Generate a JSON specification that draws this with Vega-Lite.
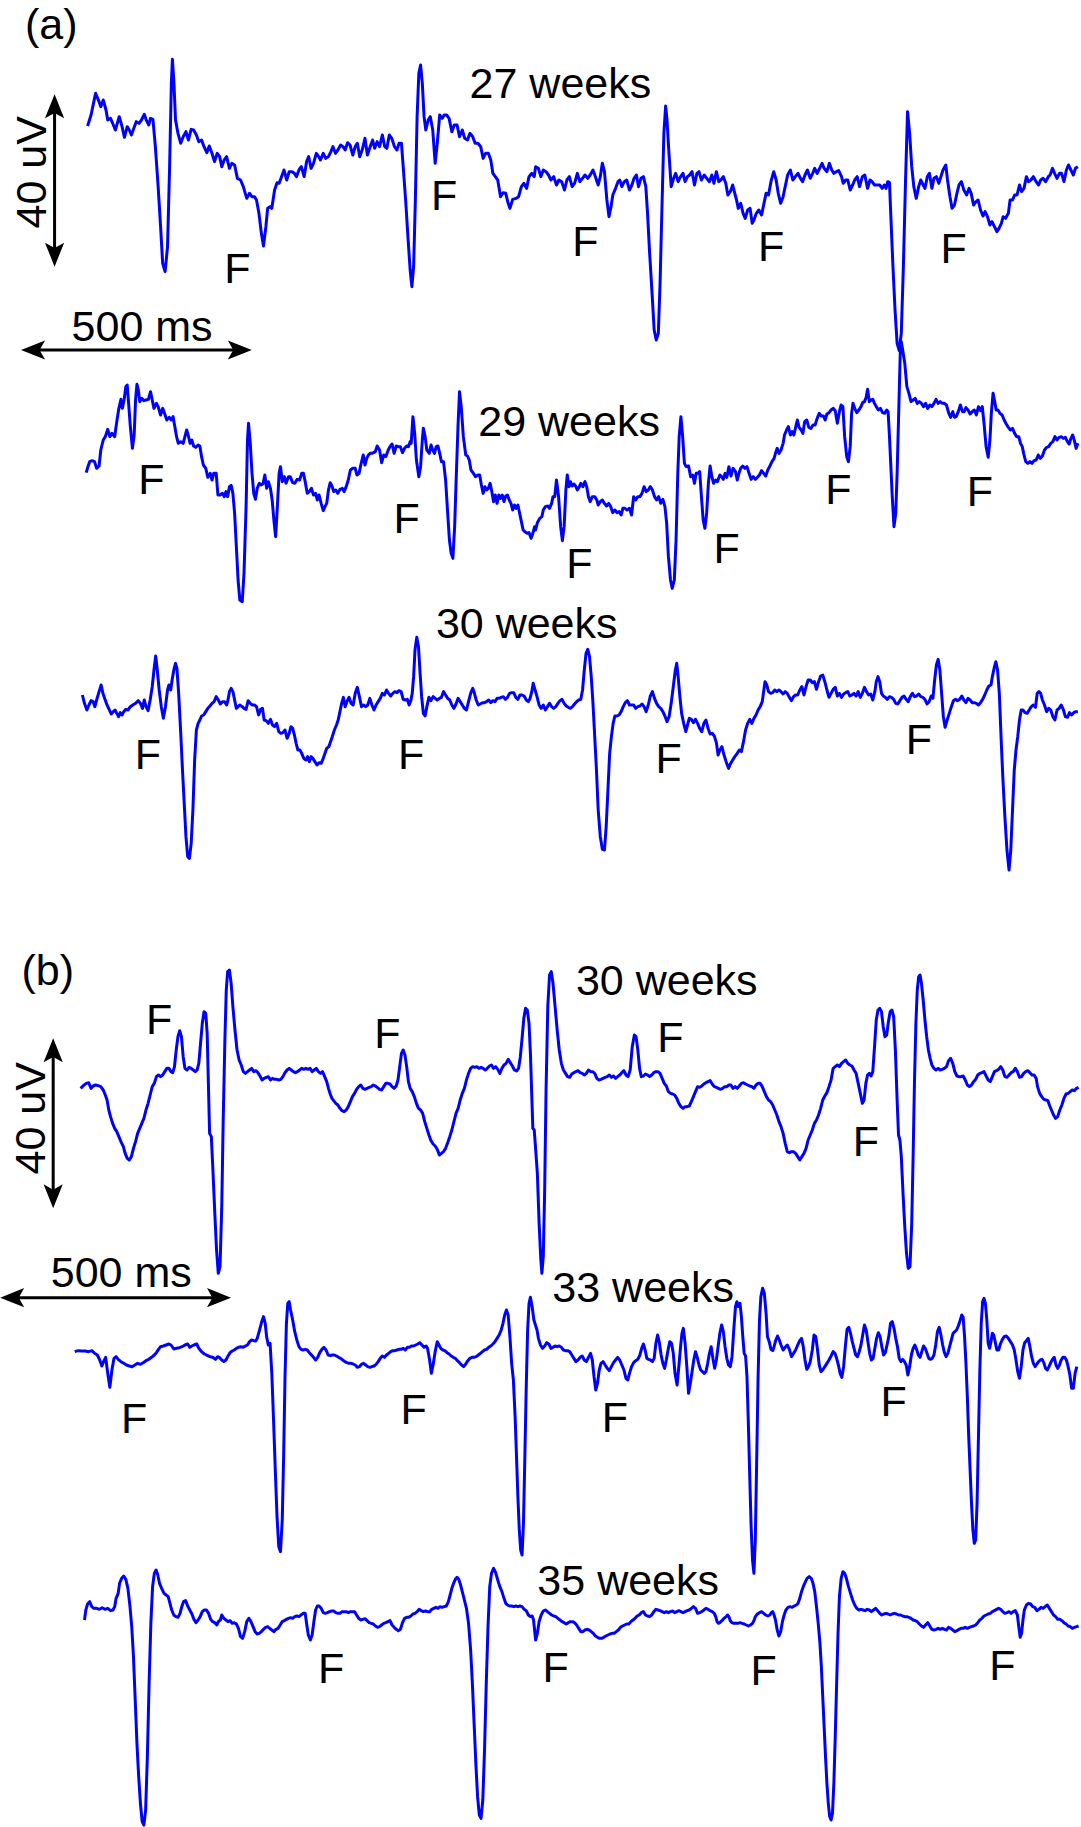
{
"$schema":"https://vega.github.io/schema/vega-lite/v6.json",
"width":1081,"height":1827,"padding":0,"autosize":{"type":"none"},
"background":"white",
"config":{"view":{"stroke":null}},
"datasets":{
"w27":[{"x":252,"y":378},{"x":262,"y":345},{"x":275,"y":280},{"x":285,"y":305},{"x":290,"y":320},{"x":297,"y":300},{"x":305,"y":330},{"x":310,"y":360},{"x":318,"y":355},{"x":325,"y":372},{"x":332,"y":390},{"x":343,"y":350},{"x":350,"y":375},{"x":358,"y":412},{"x":366,"y":380},{"x":372,"y":390},{"x":378,"y":405},{"x":385,"y":385},{"x":392,"y":365},{"x":400,"y":370},{"x":407,"y":360},{"x":415,"y":343},{"x":420,"y":358},{"x":428,"y":375},{"x":433,"y":355},{"x":440,"y":358},{"x":447,"y":440},{"x":455,"y":560},{"x":462,"y":680},{"x":468,"y":790},{"x":475,"y":815},{"x":482,"y":740},{"x":488,"y":500},{"x":493,"y":250},{"x":496,"y":178},{"x":500,"y":240},{"x":505,"y":360},{"x":512,"y":400},{"x":520,"y":430},{"x":527,"y":410},{"x":535,"y":395},{"x":542,"y":420},{"x":550,"y":388},{"x":557,"y":390},{"x":565,"y":405},{"x":572,"y":425},{"x":580,"y":420},{"x":587,"y":440},{"x":595,"y":458},{"x":602,"y":438},{"x":610,"y":460},{"x":617,"y":485},{"x":625,"y":460},{"x":632,"y":470},{"x":638,"y":500},{"x":645,"y":480},{"x":652,"y":470},{"x":660,"y":505},{"x":667,"y":490},{"x":675,"y":495},{"x":683,"y":535},{"x":692,"y":540},{"x":700,"y":560},{"x":710,"y":595},{"x":718,"y":580},{"x":725,"y":590},{"x":732,"y":590},{"x":738,"y":600},{"x":745,"y":640},{"x":752,"y":700},{"x":758,"y":738},{"x":765,"y":680},{"x":770,"y":625},{"x":777,"y":620},{"x":782,"y":625},{"x":790,"y":570},{"x":797,"y":548},{"x":803,"y":550},{"x":810,"y":530},{"x":817,"y":510},{"x":825,"y":540},{"x":832,"y":515},{"x":840,"y":515},{"x":847,"y":520},{"x":853,"y":530},{"x":860,"y":510},{"x":867,"y":500},{"x":875,"y":530},{"x":882,"y":485},{"x":888,"y":470},{"x":895,"y":505},{"x":902,"y":490},{"x":910,"y":460},{"x":917,"y":470},{"x":922,"y":480},{"x":930,"y":460},{"x":937,"y":475},{"x":945,"y":470},{"x":952,"y":455},{"x":958,"y":440},{"x":965,"y":460},{"x":972,"y":450},{"x":980,"y":435},{"x":987,"y":440},{"x":993,"y":450},{"x":1000,"y":428},{"x":1007,"y":435},{"x":1015,"y":465},{"x":1022,"y":440},{"x":1028,"y":430},{"x":1035,"y":470},{"x":1042,"y":450},{"x":1050,"y":415},{"x":1057,"y":465},{"x":1065,"y":440},{"x":1072,"y":420},{"x":1078,"y":445},{"x":1085,"y":425},{"x":1092,"y":440},{"x":1100,"y":405},{"x":1107,"y":440},{"x":1113,"y":445},{"x":1120,"y":405},{"x":1127,"y":415},{"x":1135,"y":440},{"x":1142,"y":450},{"x":1148,"y":430},{"x":1155,"y":430},{"x":1160,"y":500},{"x":1167,"y":600},{"x":1173,"y":700},{"x":1180,"y":810},{"x":1185,"y":860},{"x":1190,"y":800},{"x":1195,"y":600},{"x":1200,"y":350},{"x":1205,"y":220},{"x":1210,"y":195},{"x":1215,"y":250},{"x":1220,"y":350},{"x":1225,"y":390},{"x":1232,"y":360},{"x":1238,"y":350},{"x":1245,"y":390},{"x":1252,"y":490},{"x":1258,"y":430},{"x":1265,"y":345},{"x":1272,"y":355},{"x":1278,"y":345},{"x":1285,"y":345},{"x":1292,"y":355},{"x":1300,"y":395},{"x":1307,"y":375},{"x":1315,"y":375},{"x":1322,"y":410},{"x":1330,"y":390},{"x":1337,"y":415},{"x":1345,"y":420},{"x":1352,"y":400},{"x":1360,"y":410},{"x":1367,"y":430},{"x":1375,"y":430},{"x":1383,"y":440},{"x":1390,"y":475},{"x":1397,"y":460},{"x":1405,"y":460},{"x":1412,"y":480},{"x":1418,"y":520},{"x":1425,"y":530},{"x":1432,"y":540},{"x":1440,"y":590},{"x":1447,"y":578},{"x":1455,"y":580},{"x":1462,"y":610},{"x":1467,"y":625},{"x":1475,"y":598},{"x":1485,"y":595},{"x":1492,"y":590},{"x":1500,"y":560},{"x":1507,"y":550},{"x":1515,"y":565},{"x":1522,"y":530},{"x":1530,"y":520},{"x":1537,"y":530},
{"x":1541,"y":500},{"x":1549,"y":505},{"x":1556,"y":530},{"x":1563,"y":510},{"x":1571,"y":515},{"x":1578,"y":525},{"x":1585,"y":540},{"x":1593,"y":530},{"x":1601,"y":555},{"x":1608,"y":540},{"x":1616,"y":545},{"x":1624,"y":570},{"x":1631,"y":540},{"x":1638,"y":530},{"x":1646,"y":560},{"x":1653,"y":550},{"x":1661,"y":520},{"x":1668,"y":545},{"x":1676,"y":535},{"x":1683,"y":525},{"x":1691,"y":535},{"x":1698,"y":525},{"x":1706,"y":510},{"x":1713,"y":530},{"x":1721,"y":555},{"x":1727,"y":530},{"x":1733,"y":490},{"x":1739,"y":515},{"x":1746,"y":600},{"x":1752,"y":650},{"x":1758,"y":620},{"x":1763,"y":585},{"x":1771,"y":565},{"x":1778,"y":545},{"x":1783,"y":540},{"x":1789,"y":560},{"x":1796,"y":545},{"x":1803,"y":540},{"x":1811,"y":570},{"x":1818,"y":555},{"x":1824,"y":535},{"x":1831,"y":525},{"x":1837,"y":560},{"x":1844,"y":535},{"x":1851,"y":530},{"x":1858,"y":560},{"x":1863,"y":640},{"x":1869,"y":760},{"x":1876,"y":880},{"x":1882,"y":990},{"x":1888,"y":1020},{"x":1894,"y":1000},{"x":1899,"y":850},{"x":1905,"y":600},{"x":1910,"y":400},{"x":1915,"y":318},{"x":1919,"y":360},{"x":1924,"y":450},{"x":1931,"y":560},{"x":1938,"y":535},{"x":1944,"y":520},{"x":1951,"y":545},{"x":1958,"y":530},{"x":1965,"y":520},{"x":1971,"y":545},{"x":1978,"y":530},{"x":1984,"y":525},{"x":1991,"y":515},{"x":1998,"y":555},{"x":2005,"y":520},{"x":2011,"y":515},{"x":2018,"y":540},{"x":2026,"y":525},{"x":2033,"y":535},{"x":2041,"y":545},{"x":2048,"y":525},{"x":2054,"y":550},{"x":2061,"y":515},{"x":2068,"y":545},{"x":2074,"y":540},{"x":2081,"y":530},{"x":2088,"y":550},{"x":2094,"y":585},{"x":2101,"y":575},{"x":2108,"y":555},{"x":2114,"y":580},{"x":2119,"y":600},{"x":2124,"y":625},{"x":2131,"y":610},{"x":2138,"y":640},{"x":2144,"y":655},{"x":2151,"y":630},{"x":2158,"y":625},{"x":2164,"y":670},{"x":2169,"y":660},{"x":2176,"y":640},{"x":2183,"y":630},{"x":2191,"y":645},{"x":2198,"y":610},{"x":2204,"y":580},{"x":2211,"y":585},{"x":2218,"y":545},{"x":2226,"y":515},{"x":2233,"y":540},{"x":2239,"y":580},{"x":2246,"y":610},{"x":2253,"y":590},{"x":2259,"y":560},{"x":2266,"y":525},{"x":2274,"y":510},{"x":2281,"y":540},{"x":2288,"y":530},{"x":2296,"y":520},{"x":2303,"y":535},{"x":2309,"y":545},{"x":2316,"y":525},{"x":2323,"y":510},{"x":2331,"y":535},{"x":2338,"y":520},{"x":2344,"y":505},{"x":2351,"y":520},{"x":2358,"y":505},{"x":2365,"y":490},{"x":2371,"y":505},{"x":2379,"y":515},{"x":2386,"y":490},{"x":2393,"y":510},{"x":2399,"y":520},{"x":2406,"y":515},{"x":2413,"y":512},{"x":2421,"y":530},{"x":2426,"y":550},{"x":2433,"y":540},{"x":2439,"y":540},{"x":2446,"y":570},{"x":2453,"y":555},{"x":2459,"y":540},{"x":2466,"y":530},{"x":2473,"y":560},{"x":2481,"y":530},{"x":2488,"y":525},{"x":2496,"y":565},{"x":2503,"y":540},{"x":2509,"y":545},{"x":2516,"y":555},{"x":2523,"y":555},{"x":2531,"y":555},{"x":2538,"y":565},{"x":2544,"y":555},{"x":2549,"y":565},{"x":2554,"y":545},{"x":2559,"y":548},{"x":2563,"y":650},{"x":2569,"y":800},{"x":2575,"y":930},{"x":2581,"y":1030},{"x":2587,"y":1052},{"x":2593,"y":1000},{"x":2599,"y":800},{"x":2605,"y":550},{"x":2611,"y":335},{"x":2617,"y":400},{"x":2623,"y":500},{"x":2629,"y":560},{"x":2636,"y":595},{"x":2643,"y":560},{"x":2649,"y":540},{"x":2656,"y":555},{"x":2661,"y":565},{"x":2668,"y":530},{"x":2674,"y":520},{"x":2681,"y":565},{"x":2687,"y":535},{"x":2694,"y":530},{"x":2701,"y":550},{"x":2707,"y":530},{"x":2713,"y":510},{"x":2721,"y":495},{"x":2726,"y":540},{"x":2733,"y":590},{"x":2739,"y":625},{"x":2746,"y":615},{"x":2753,"y":580},{"x":2759,"y":555},{"x":2766,"y":545},{"x":2773,"y":570},{"x":2781,"y":585},{"x":2788,"y":565},{"x":2794,"y":580},{"x":2801,"y":615},{"x":2808,"y":605},{"x":2814,"y":600},{"x":2821,"y":630},{"x":2828,"y":648},{"x":2834,"y":635},{"x":2841,"y":650},{"x":2848,"y":675},{"x":2854,"y":665},{"x":2861,"y":680},{"x":2868,"y":695},{"x":2874,"y":685},{"x":2881,"y":670},{"x":2886,"y":650},{"x":2893,"y":655},{"x":2901,"y":640},{"x":2906,"y":600},{"x":2913,"y":600},{"x":2919,"y":585},{"x":2926,"y":585},{"x":2933,"y":555},{"x":2939,"y":575},{"x":2946,"y":565},{"x":2953,"y":530},{"x":2959,"y":545},{"x":2966,"y":540},{"x":2973,"y":530},{"x":2981,"y":545},{"x":2988,"y":555},{"x":2994,"y":540},{"x":3001,"y":535},{"x":3008,"y":545},{"x":3016,"y":530},{"x":3021,"y":525},{"x":3028,"y":505},{"x":3034,"y":520},{"x":3041,"y":535},{"x":3048,"y":520},{"x":3054,"y":520},{"x":3061,"y":545},{"x":3068,"y":510},{"x":3074,"y":495},{"x":3081,"y":510},{"x":3088,"y":525},{"x":3094,"y":505},{"x":3101,"y":500}],
"w29":[{"x":248,"y":1418},{"x":253,"y":1400},{"x":258,"y":1385},{"x":265,"y":1382},{"x":272,"y":1385},{"x":278,"y":1405},{"x":285,"y":1398},{"x":290,"y":1350},{"x":297,"y":1320},{"x":303,"y":1310},{"x":310,"y":1288},{"x":316,"y":1310},{"x":322,"y":1300},{"x":330,"y":1310},{"x":336,"y":1265},{"x":342,"y":1225},{"x":348,"y":1198},{"x":352,"y":1225},{"x":357,"y":1200},{"x":362,"y":1160},{"x":366,"y":1155},{"x":370,"y":1210},{"x":375,"y":1280},{"x":381,"y":1345},{"x":386,"y":1305},{"x":390,"y":1200},{"x":394,"y":1153},{"x":398,"y":1170},{"x":402,"y":1205},{"x":408,"y":1195},{"x":414,"y":1202},{"x":420,"y":1200},{"x":427,"y":1198},{"x":433,"y":1175},{"x":438,"y":1200},{"x":443,"y":1225},{"x":450,"y":1210},{"x":455,"y":1220},{"x":462,"y":1245},{"x":468,"y":1225},{"x":474,"y":1242},{"x":480,"y":1260},{"x":487,"y":1252},{"x":493,"y":1260},{"x":498,"y":1250},{"x":503,"y":1280},{"x":508,"y":1310},{"x":513,"y":1330},{"x":520,"y":1325},{"x":527,"y":1330},{"x":532,"y":1310},{"x":537,"y":1290},{"x":542,"y":1308},{"x":547,"y":1330},{"x":552,"y":1320},{"x":557,"y":1338},{"x":563,"y":1342},{"x":570,"y":1335},{"x":575,"y":1338},{"x":580,"y":1370},{"x":585,"y":1395},{"x":592,"y":1405},{"x":598,"y":1432},{"x":605,"y":1420},{"x":610,"y":1440},{"x":615,"y":1420},{"x":622,"y":1420},{"x":627,"y":1485},{"x":633,"y":1485},{"x":640,"y":1480},{"x":645,"y":1490},{"x":650,"y":1475},{"x":655,"y":1490},{"x":660,"y":1460},{"x":665,"y":1456},{"x":670,"y":1480},{"x":675,"y":1540},{"x":680,"y":1640},{"x":685,"y":1740},{"x":690,"y":1800},{"x":697,"y":1805},{"x":702,"y":1720},{"x":708,"y":1520},{"x":712,"y":1320},{"x":715,"y":1270},{"x":720,"y":1330},{"x":725,"y":1420},{"x":730,"y":1480},{"x":735,"y":1498},{"x":740,"y":1465},{"x":746,"y":1450},{"x":752,"y":1455},{"x":757,"y":1450},{"x":762,"y":1425},{"x":767,"y":1465},{"x":772,"y":1445},{"x":778,"y":1465},{"x":783,"y":1500},{"x":788,"y":1560},{"x":793,"y":1610},{"x":798,"y":1520},{"x":803,"y":1420},{"x":807,"y":1400},{"x":812,"y":1445},{"x":818,"y":1430},{"x":823,"y":1450},{"x":830,"y":1430},{"x":835,"y":1430},{"x":842,"y":1448},{"x":848,"y":1450},{"x":855,"y":1438},{"x":862,"y":1440},{"x":868,"y":1420},{"x":873,"y":1420},{"x":878,"y":1445},{"x":884,"y":1480},{"x":890,"y":1475},{"x":896,"y":1465},{"x":902,"y":1485},{"x":908,"y":1480},{"x":913,"y":1500},{"x":918,"y":1485},{"x":924,"y":1510},{"x":930,"y":1532},{"x":935,"y":1520},{"x":940,"y":1510},{"x":945,"y":1470},{"x":950,"y":1448},{"x":955,"y":1458},{"x":960,"y":1475},{"x":966,"y":1470},{"x":972,"y":1480},{"x":978,"y":1468},{"x":985,"y":1465},{"x":990,"y":1475},{"x":996,"y":1460},{"x":1002,"y":1440},{"x":1008,"y":1410},{"x":1015,"y":1405},{"x":1022,"y":1405},{"x":1027,"y":1425},{"x":1033,"y":1420},{"x":1038,"y":1395},{"x":1045,"y":1365},{"x":1050,"y":1395},{"x":1055,"y":1375},{"x":1060,"y":1365},{"x":1065,"y":1360},{"x":1070,"y":1360},{"x":1075,"y":1358},{"x":1080,"y":1355},{"x":1085,"y":1338},{"x":1092,"y":1350},{"x":1098,"y":1388},{"x":1104,"y":1365},{"x":1110,"y":1370},{"x":1117,"y":1350},{"x":1122,"y":1340},{"x":1128,"y":1332},{"x":1134,"y":1360},{"x":1140,"y":1338},{"x":1146,"y":1340},{"x":1152,"y":1340},{"x":1158,"y":1358},{"x":1164,"y":1345},{"x":1170,"y":1338},{"x":1175,"y":1340},{"x":1180,"y":1325},{"x":1183,"y":1330},{"x":1188,"y":1250},{"x":1193,"y":1300},{"x":1198,"y":1380},{"x":1205,"y":1430},{"x":1210,"y":1400},{"x":1215,"y":1320},{"x":1218,"y":1285},{"x":1223,"y":1310},{"x":1228,"y":1350},{"x":1235,"y":1360},{"x":1240,"y":1335},{"x":1245,"y":1350},{"x":1250,"y":1360},{"x":1255,"y":1340},{"x":1260,"y":1338},{"x":1265,"y":1360},{"x":1270,"y":1385},{"x":1276,"y":1385},{"x":1282,"y":1440},{"x":1288,"y":1540},{"x":1293,"y":1620},{"x":1298,"y":1660},{"x":1303,"y":1675},{"x":1308,"y":1580},{"x":1313,"y":1420},{"x":1318,"y":1270},{"x":1322,"y":1175},{"x":1327,"y":1220},{"x":1333,"y":1310},{"x":1340,"y":1365},{"x":1345,"y":1368},{"x":1350,"y":1380},{"x":1355,"y":1410},{"x":1362,"y":1420},{"x":1368,"y":1430},{"x":1375,"y":1425},{"x":1380,"y":1425},{"x":1385,"y":1455},{"x":1390,"y":1480},{"x":1395,"y":1460},{"x":1400,"y":1470},{"x":1405,"y":1465},{"x":1410,"y":1450},{"x":1415,"y":1475},{"x":1420,"y":1505},{"x":1425,"y":1485},{"x":1430,"y":1510},{"x":1435,"y":1485},{"x":1440,"y":1495},{"x":1445,"y":1485},{"x":1450,"y":1505},{"x":1455,"y":1488},{"x":1460,"y":1485},{"x":1465,"y":1500},{"x":1470,"y":1510},{"x":1475,"y":1530},{"x":1480,"y":1515},{"x":1485,"y":1525},{"x":1490,"y":1515},{"x":1495,"y":1540},{"x":1500,"y":1565},{"x":1505,"y":1590},{"x":1510,"y":1595},{"x":1517,"y":1600},{"x":1522,"y":1598},{"x":1528,"y":1615},{"x":1533,"y":1600},{"x":1538,"y":1580},
{"x":1541,"y":1590},{"x":1546,"y":1568},{"x":1553,"y":1555},{"x":1559,"y":1550},{"x":1563,"y":1530},{"x":1569,"y":1520},{"x":1576,"y":1518},{"x":1581,"y":1525},{"x":1587,"y":1510},{"x":1591,"y":1490},{"x":1596,"y":1490},{"x":1601,"y":1440},{"x":1607,"y":1490},{"x":1613,"y":1580},{"x":1618,"y":1622},{"x":1623,"y":1580},{"x":1628,"y":1470},{"x":1632,"y":1425},{"x":1637,"y":1460},{"x":1641,"y":1445},{"x":1646,"y":1458},{"x":1651,"y":1452},{"x":1656,"y":1458},{"x":1661,"y":1470},{"x":1667,"y":1460},{"x":1671,"y":1450},{"x":1677,"y":1460},{"x":1683,"y":1445},{"x":1688,"y":1460},{"x":1693,"y":1490},{"x":1698,"y":1505},{"x":1704,"y":1490},{"x":1711,"y":1490},{"x":1717,"y":1500},{"x":1721,"y":1515},{"x":1727,"y":1505},{"x":1733,"y":1500},{"x":1739,"y":1510},{"x":1745,"y":1518},{"x":1751,"y":1510},{"x":1757,"y":1520},{"x":1763,"y":1538},{"x":1769,"y":1530},{"x":1775,"y":1538},{"x":1781,"y":1535},{"x":1787,"y":1545},{"x":1792,"y":1525},{"x":1798,"y":1525},{"x":1804,"y":1530},{"x":1811,"y":1525},{"x":1817,"y":1545},{"x":1823,"y":1490},{"x":1829,"y":1500},{"x":1835,"y":1490},{"x":1841,"y":1490},{"x":1847,"y":1480},{"x":1853,"y":1460},{"x":1859,"y":1475},{"x":1865,"y":1470},{"x":1871,"y":1460},{"x":1877,"y":1470},{"x":1883,"y":1490},{"x":1889,"y":1500},{"x":1895,"y":1490},{"x":1901,"y":1510},{"x":1907,"y":1498},{"x":1913,"y":1520},{"x":1918,"y":1570},{"x":1923,"y":1670},{"x":1929,"y":1740},{"x":1934,"y":1765},{"x":1940,"y":1740},{"x":1945,"y":1620},{"x":1950,"y":1420},{"x":1954,"y":1310},{"x":1959,"y":1250},{"x":1964,"y":1310},{"x":1969,"y":1390},{"x":1974,"y":1400},{"x":1981,"y":1398},{"x":1987,"y":1430},{"x":1993,"y":1425},{"x":1998,"y":1450},{"x":2003,"y":1420},{"x":2008,"y":1420},{"x":2013,"y":1415},{"x":2018,"y":1490},{"x":2023,"y":1560},{"x":2028,"y":1585},{"x":2033,"y":1540},{"x":2038,"y":1450},{"x":2043,"y":1398},{"x":2048,"y":1430},{"x":2053,"y":1450},{"x":2059,"y":1440},{"x":2064,"y":1445},{"x":2071,"y":1425},{"x":2076,"y":1430},{"x":2081,"y":1438},{"x":2086,"y":1420},{"x":2091,"y":1432},{"x":2097,"y":1400},{"x":2103,"y":1428},{"x":2109,"y":1405},{"x":2116,"y":1415},{"x":2121,"y":1440},{"x":2126,"y":1420},{"x":2131,"y":1405},{"x":2137,"y":1398},{"x":2143,"y":1405},{"x":2149,"y":1400},{"x":2155,"y":1420},{"x":2161,"y":1438},{"x":2167,"y":1430},{"x":2173,"y":1438},{"x":2179,"y":1432},{"x":2185,"y":1425},{"x":2191,"y":1412},{"x":2197,"y":1420},{"x":2203,"y":1428},{"x":2209,"y":1410},{"x":2215,"y":1398},{"x":2221,"y":1385},{"x":2227,"y":1375},{"x":2231,"y":1360},{"x":2236,"y":1345},{"x":2241,"y":1360},{"x":2247,"y":1350},{"x":2253,"y":1330},{"x":2257,"y":1305},{"x":2263,"y":1290},{"x":2268,"y":1280},{"x":2274,"y":1305},{"x":2279,"y":1295},{"x":2284,"y":1305},{"x":2289,"y":1282},{"x":2294,"y":1260},{"x":2299,"y":1282},{"x":2305,"y":1290},{"x":2310,"y":1300},{"x":2315,"y":1265},{"x":2321,"y":1260},{"x":2327,"y":1282},{"x":2333,"y":1285},{"x":2339,"y":1275},{"x":2345,"y":1275},{"x":2351,"y":1255},{"x":2357,"y":1240},{"x":2363,"y":1248},{"x":2369,"y":1248},{"x":2374,"y":1260},{"x":2379,"y":1242},{"x":2385,"y":1238},{"x":2391,"y":1230},{"x":2397,"y":1225},{"x":2403,"y":1232},{"x":2409,"y":1270},{"x":2415,"y":1235},{"x":2420,"y":1215},{"x":2425,"y":1220},{"x":2430,"y":1310},{"x":2436,"y":1370},{"x":2441,"y":1385},{"x":2446,"y":1340},{"x":2450,"y":1240},{"x":2454,"y":1210},{"x":2459,"y":1225},{"x":2465,"y":1238},{"x":2471,"y":1230},{"x":2477,"y":1220},{"x":2482,"y":1208},{"x":2487,"y":1205},{"x":2492,"y":1192},{"x":2496,"y":1168},{"x":2501,"y":1205},{"x":2506,"y":1200},{"x":2511,"y":1198},{"x":2516,"y":1210},{"x":2521,"y":1220},{"x":2527,"y":1230},{"x":2533,"y":1225},{"x":2539,"y":1238},{"x":2545,"y":1240},{"x":2551,"y":1230},{"x":2555,"y":1235},{"x":2559,"y":1310},{"x":2563,"y":1400},{"x":2567,"y":1490},{"x":2572,"y":1580},{"x":2577,"y":1540},{"x":2581,"y":1420},{"x":2586,"y":1220},{"x":2590,"y":1060},{"x":2593,"y":1025},{"x":2597,"y":1050},{"x":2603,"y":1090},{"x":2609,"y":1160},{"x":2615,"y":1180},{"x":2621,"y":1205},{"x":2627,"y":1200},{"x":2633,"y":1195},{"x":2639,"y":1210},{"x":2645,"y":1205},{"x":2651,"y":1210},{"x":2657,"y":1220},{"x":2663,"y":1210},{"x":2669,"y":1225},{"x":2675,"y":1215},{"x":2681,"y":1220},{"x":2687,"y":1210},{"x":2693,"y":1198},{"x":2699,"y":1210},{"x":2705,"y":1205},{"x":2711,"y":1210},{"x":2717,"y":1210},{"x":2723,"y":1215},{"x":2729,"y":1238},{"x":2735,"y":1252},{"x":2741,"y":1235},{"x":2746,"y":1252},{"x":2751,"y":1250},{"x":2757,"y":1235},{"x":2763,"y":1215},{"x":2769,"y":1235},{"x":2774,"y":1235},{"x":2779,"y":1223},{"x":2785,"y":1230},{"x":2791,"y":1242},{"x":2797,"y":1235},{"x":2803,"y":1230},{"x":2809,"y":1245},{"x":2815,"y":1220},{"x":2821,"y":1232},{"x":2826,"y":1220},{"x":2831,"y":1270},{"x":2837,"y":1340},{"x":2843,"y":1372},{"x":2848,"y":1320},{"x":2852,"y":1240},{"x":2857,"y":1180},{"x":2861,"y":1200},{"x":2866,"y":1230},{"x":2871,"y":1230},{"x":2877,"y":1240},{"x":2883,"y":1245},{"x":2889,"y":1260},{"x":2895,"y":1272},{"x":2901,"y":1282},{"x":2907,"y":1290},{"x":2913,"y":1285},{"x":2919,"y":1300},{"x":2925,"y":1310},{"x":2931,"y":1310},{"x":2936,"y":1330},{"x":2941,"y":1340},{"x":2945,"y":1360},{"x":2951,"y":1385},{"x":2957,"y":1390},{"x":2963,"y":1385},{"x":2969,"y":1390},{"x":2975,"y":1382},{"x":2981,"y":1380},{"x":2987,"y":1365},{"x":2993,"y":1375},{"x":2999,"y":1368},{"x":3005,"y":1350},{"x":3011,"y":1342},{"x":3017,"y":1340},{"x":3023,"y":1330},{"x":3029,"y":1325},{"x":3035,"y":1310},{"x":3041,"y":1320},{"x":3047,"y":1312},{"x":3053,"y":1310},{"x":3059,"y":1315},{"x":3065,"y":1312},{"x":3071,"y":1325},{"x":3076,"y":1332},{"x":3081,"y":1315},{"x":3086,"y":1305},{"x":3091,"y":1322},{"x":3096,"y":1345},{"x":3101,"y":1330}],
"w30a":[{"x":237,"y":2085},{"x":243,"y":2110},{"x":250,"y":2130},{"x":256,"y":2115},{"x":262,"y":2102},{"x":268,"y":2105},{"x":273,"y":2120},{"x":278,"y":2100},{"x":285,"y":2075},{"x":291,"y":2055},{"x":296,"y":2080},{"x":302,"y":2098},{"x":308,"y":2115},{"x":314,"y":2128},{"x":320,"y":2142},{"x":326,"y":2135},{"x":331,"y":2130},{"x":336,"y":2140},{"x":341,"y":2150},{"x":346,"y":2138},{"x":351,"y":2145},{"x":356,"y":2135},{"x":362,"y":2128},{"x":368,"y":2130},{"x":375,"y":2120},{"x":382,"y":2115},{"x":390,"y":2110},{"x":398,"y":2102},{"x":404,"y":2110},{"x":410,"y":2125},{"x":415,"y":2100},{"x":420,"y":2120},{"x":426,"y":2132},{"x":432,"y":2100},{"x":438,"y":2060},{"x":443,"y":2010},{"x":448,"y":1968},{"x":452,"y":2005},{"x":458,"y":2070},{"x":464,"y":2120},{"x":470,"y":2155},{"x":476,"y":2120},{"x":482,"y":2070},{"x":486,"y":2055},{"x":491,"y":2070},{"x":496,"y":2035},{"x":501,"y":2005},{"x":505,"y":1990},{"x":509,"y":2005},{"x":514,"y":2080},{"x":520,"y":2200},{"x":525,"y":2310},{"x":530,"y":2410},{"x":535,"y":2510},{"x":540,"y":2570},{"x":545,"y":2575},{"x":550,"y":2530},{"x":555,"y":2430},{"x":560,"y":2280},{"x":565,"y":2190},{"x":570,"y":2170},{"x":575,"y":2160},{"x":580,"y":2148},{"x":586,"y":2145},{"x":592,"y":2135},{"x":598,"y":2125},{"x":604,"y":2118},{"x":610,"y":2110},{"x":616,"y":2105},{"x":622,"y":2090},{"x":628,"y":2100},{"x":634,"y":2112},{"x":640,"y":2105},{"x":646,"y":2105},{"x":652,"y":2115},{"x":656,"y":2100},{"x":660,"y":2075},{"x":665,"y":2065},{"x":670,"y":2075},{"x":675,"y":2100},{"x":680,"y":2125},{"x":685,"y":2120},{"x":690,"y":2115},{"x":697,"y":2120},{"x":702,"y":2125},{"x":708,"y":2128},{"x":714,"y":2102},{"x":720,"y":2110},{"x":726,"y":2115},{"x":732,"y":2115},{"x":738,"y":2120},{"x":744,"y":2145},{"x":750,"y":2128},{"x":755,"y":2125},{"x":760,"y":2160},{"x":766,"y":2162},{"x":772,"y":2170},{"x":778,"y":2158},{"x":784,"y":2175},{"x":790,"y":2180},{"x":796,"y":2170},{"x":802,"y":2195},{"x":808,"y":2200},{"x":814,"y":2198},{"x":820,"y":2190},{"x":826,"y":2215},{"x":832,"y":2200},{"x":837,"y":2180},{"x":842,"y":2185},{"x":847,"y":2205},{"x":852,"y":2230},{"x":857,"y":2250},{"x":863,"y":2250},{"x":868,"y":2260},{"x":874,"y":2275},{"x":880,"y":2280},{"x":885,"y":2270},{"x":890,"y":2285},{"x":895,"y":2270},{"x":900,"y":2275},{"x":906,"y":2285},{"x":912,"y":2295},{"x":918,"y":2288},{"x":924,"y":2290},{"x":930,"y":2275},{"x":935,"y":2260},{"x":940,"y":2245},{"x":946,"y":2240},{"x":951,"y":2225},{"x":956,"y":2210},{"x":962,"y":2190},{"x":968,"y":2175},{"x":973,"y":2160},{"x":978,"y":2135},{"x":983,"y":2110},{"x":988,"y":2092},{"x":993,"y":2120},{"x":998,"y":2105},{"x":1004,"y":2092},{"x":1010,"y":2110},{"x":1016,"y":2115},{"x":1022,"y":2080},{"x":1028,"y":2062},{"x":1034,"y":2090},{"x":1040,"y":2120},{"x":1046,"y":2115},{"x":1052,"y":2120},{"x":1058,"y":2115},{"x":1064,"y":2095},{"x":1070,"y":2115},{"x":1076,"y":2130},{"x":1082,"y":2115},{"x":1088,"y":2105},{"x":1094,"y":2095},{"x":1100,"y":2080},{"x":1106,"y":2085},{"x":1112,"y":2070},{"x":1118,"y":2080},{"x":1124,"y":2088},{"x":1130,"y":2080},{"x":1136,"y":2075},{"x":1142,"y":2078},{"x":1148,"y":2072},{"x":1154,"y":2075},{"x":1160,"y":2098},{"x":1166,"y":2100},{"x":1172,"y":2098},{"x":1177,"y":2115},{"x":1182,"y":2102},{"x":1186,"y":2080},{"x":1190,"y":2030},{"x":1194,"y":1950},{"x":1199,"y":1912},{"x":1204,"y":1940},{"x":1208,"y":2010},{"x":1213,"y":2090},{"x":1218,"y":2140},{"x":1223,"y":2148},{"x":1228,"y":2120},{"x":1234,"y":2092},{"x":1240,"y":2102},{"x":1246,"y":2090},{"x":1252,"y":2095},{"x":1258,"y":2100},{"x":1264,"y":2095},{"x":1270,"y":2092},{"x":1276,"y":2075},{"x":1282,"y":2085},{"x":1288,"y":2095},{"x":1294,"y":2100},{"x":1300,"y":2115},{"x":1306,"y":2125},{"x":1312,"y":2112},{"x":1318,"y":2095},{"x":1324,"y":2105},{"x":1330,"y":2115},{"x":1336,"y":2125},{"x":1342,"y":2130},{"x":1348,"y":2105},{"x":1354,"y":2080},{"x":1360,"y":2065},{"x":1365,"y":2080},{"x":1370,"y":2100},{"x":1376,"y":2115},{"x":1382,"y":2112},{"x":1388,"y":2108},{"x":1394,"y":2108},{"x":1400,"y":2105},{"x":1406,"y":2100},{"x":1412,"y":2108},{"x":1418,"y":2102},{"x":1424,"y":2105},{"x":1430,"y":2095},{"x":1436,"y":2095},{"x":1442,"y":2092},{"x":1448,"y":2090},{"x":1454,"y":2098},{"x":1460,"y":2092},{"x":1466,"y":2080},{"x":1472,"y":2078},{"x":1478,"y":2078},{"x":1484,"y":2092},{"x":1490,"y":2098},{"x":1496,"y":2085},{"x":1502,"y":2085},{"x":1508,"y":2088},{"x":1514,"y":2100},{"x":1520,"y":2105},{"x":1525,"y":2095},{"x":1530,"y":2075},{"x":1534,"y":2050},
{"x":1545,"y":2090},{"x":1551,"y":2115},{"x":1557,"y":2125},{"x":1563,"y":2115},{"x":1569,"y":2130},{"x":1575,"y":2120},{"x":1581,"y":2110},{"x":1587,"y":2120},{"x":1593,"y":2125},{"x":1599,"y":2120},{"x":1605,"y":2110},{"x":1611,"y":2102},{"x":1617,"y":2098},{"x":1623,"y":2110},{"x":1629,"y":2118},{"x":1635,"y":2122},{"x":1641,"y":2125},{"x":1647,"y":2120},{"x":1653,"y":2112},{"x":1659,"y":2105},{"x":1665,"y":2100},{"x":1671,"y":2098},{"x":1676,"y":2070},{"x":1681,"y":2010},{"x":1686,"y":1960},{"x":1691,"y":1948},{"x":1696,"y":1970},{"x":1701,"y":2030},{"x":1706,"y":2110},{"x":1711,"y":2210},{"x":1716,"y":2310},{"x":1721,"y":2430},{"x":1727,"y":2510},{"x":1733,"y":2548},{"x":1739,"y":2550},{"x":1744,"y":2480},{"x":1749,"y":2370},{"x":1754,"y":2260},{"x":1759,"y":2210},{"x":1764,"y":2170},{"x":1769,"y":2148},{"x":1775,"y":2148},{"x":1781,"y":2145},{"x":1787,"y":2135},{"x":1793,"y":2120},{"x":1799,"y":2108},{"x":1805,"y":2102},{"x":1811,"y":2115},{"x":1817,"y":2115},{"x":1823,"y":2115},{"x":1829,"y":2125},{"x":1835,"y":2120},{"x":1841,"y":2118},{"x":1847,"y":2112},{"x":1853,"y":2120},{"x":1859,"y":2135},{"x":1865,"y":2115},{"x":1871,"y":2088},{"x":1877,"y":2075},{"x":1883,"y":2095},{"x":1889,"y":2110},{"x":1895,"y":2120},{"x":1901,"y":2125},{"x":1907,"y":2135},{"x":1913,"y":2148},{"x":1919,"y":2165},{"x":1925,"y":2150},{"x":1931,"y":2110},{"x":1937,"y":2060},{"x":1943,"y":2010},{"x":1947,"y":1990},{"x":1951,"y":2030},{"x":1956,"y":2090},{"x":1961,"y":2140},{"x":1967,"y":2170},{"x":1973,"y":2195},{"x":1978,"y":2175},{"x":1983,"y":2155},{"x":1989,"y":2158},{"x":1995,"y":2168},{"x":2001,"y":2158},{"x":2007,"y":2170},{"x":2013,"y":2185},{"x":2019,"y":2195},{"x":2025,"y":2170},{"x":2031,"y":2160},{"x":2037,"y":2185},{"x":2043,"y":2202},{"x":2049,"y":2200},{"x":2055,"y":2208},{"x":2061,"y":2228},{"x":2066,"y":2265},{"x":2071,"y":2250},{"x":2077,"y":2240},{"x":2083,"y":2265},{"x":2089,"y":2285},{"x":2096,"y":2305},{"x":2102,"y":2290},{"x":2108,"y":2280},{"x":2114,"y":2270},{"x":2121,"y":2260},{"x":2127,"y":2250},{"x":2133,"y":2255},{"x":2139,"y":2225},{"x":2145,"y":2190},{"x":2151,"y":2170},{"x":2157,"y":2158},{"x":2163,"y":2170},{"x":2169,"y":2155},{"x":2175,"y":2145},{"x":2181,"y":2130},{"x":2187,"y":2120},{"x":2193,"y":2105},{"x":2197,"y":2075},{"x":2201,"y":2045},{"x":2206,"y":2055},{"x":2211,"y":2075},{"x":2217,"y":2080},{"x":2223,"y":2078},{"x":2229,"y":2070},{"x":2235,"y":2075},{"x":2241,"y":2070},{"x":2247,"y":2075},{"x":2253,"y":2082},{"x":2259,"y":2075},{"x":2265,"y":2080},{"x":2271,"y":2092},{"x":2277,"y":2102},{"x":2283,"y":2090},{"x":2289,"y":2085},{"x":2295,"y":2085},{"x":2301,"y":2070},{"x":2307,"y":2060},{"x":2313,"y":2085},{"x":2319,"y":2060},{"x":2325,"y":2040},{"x":2331,"y":2040},{"x":2337,"y":2048},{"x":2343,"y":2045},{"x":2349,"y":2068},{"x":2355,"y":2045},{"x":2361,"y":2028},{"x":2367,"y":2025},{"x":2373,"y":2045},{"x":2379,"y":2070},{"x":2385,"y":2092},{"x":2391,"y":2080},{"x":2397,"y":2068},{"x":2403,"y":2062},{"x":2409,"y":2088},{"x":2415,"y":2080},{"x":2421,"y":2092},{"x":2427,"y":2082},{"x":2433,"y":2078},{"x":2439,"y":2075},{"x":2445,"y":2088},{"x":2451,"y":2085},{"x":2457,"y":2080},{"x":2463,"y":2088},{"x":2469,"y":2075},{"x":2475,"y":2092},{"x":2481,"y":2080},{"x":2487,"y":2062},{"x":2493,"y":2075},{"x":2499,"y":2085},{"x":2505,"y":2082},{"x":2511,"y":2100},{"x":2517,"y":2075},{"x":2521,"y":2045},{"x":2526,"y":2030},{"x":2531,"y":2045},{"x":2536,"y":2080},{"x":2541,"y":2088},{"x":2547,"y":2092},{"x":2553,"y":2098},{"x":2559,"y":2090},{"x":2565,"y":2092},{"x":2571,"y":2098},{"x":2577,"y":2110},{"x":2583,"y":2112},{"x":2589,"y":2102},{"x":2595,"y":2092},{"x":2601,"y":2088},{"x":2607,"y":2098},{"x":2613,"y":2105},{"x":2619,"y":2090},{"x":2625,"y":2080},{"x":2631,"y":2090},{"x":2637,"y":2088},{"x":2643,"y":2082},{"x":2649,"y":2090},{"x":2655,"y":2092},{"x":2661,"y":2098},{"x":2667,"y":2112},{"x":2673,"y":2105},{"x":2679,"y":2088},{"x":2684,"y":2095},{"x":2689,"y":2040},{"x":2694,"y":1995},{"x":2699,"y":1978},{"x":2704,"y":2010},{"x":2709,"y":2080},{"x":2714,"y":2150},{"x":2719,"y":2182},{"x":2725,"y":2160},{"x":2731,"y":2140},{"x":2737,"y":2120},{"x":2743,"y":2102},{"x":2749,"y":2098},{"x":2755,"y":2102},{"x":2761,"y":2098},{"x":2767,"y":2088},{"x":2773,"y":2100},{"x":2779,"y":2108},{"x":2785,"y":2095},{"x":2791,"y":2100},{"x":2797,"y":2108},{"x":2803,"y":2108},{"x":2809,"y":2110},{"x":2815,"y":2115},{"x":2821,"y":2108},{"x":2827,"y":2098},{"x":2833,"y":2085},{"x":2839,"y":2070},{"x":2845,"y":2058},{"x":2851,"y":2055},{"x":2855,"y":2030},{"x":2860,"y":2005},{"x":2865,"y":1985},{"x":2870,"y":2010},{"x":2875,"y":2080},{"x":2880,"y":2210},{"x":2885,"y":2330},{"x":2891,"y":2450},{"x":2897,"y":2550},{"x":2903,"y":2610},{"x":2908,"y":2550},{"x":2913,"y":2430},{"x":2918,"y":2310},{"x":2923,"y":2250},{"x":2928,"y":2210},{"x":2933,"y":2160},{"x":2938,"y":2130},{"x":2943,"y":2130},{"x":2949,"y":2138},{"x":2955,"y":2140},{"x":2961,"y":2130},{"x":2967,"y":2120},{"x":2973,"y":2115},{"x":2979,"y":2122},{"x":2984,"y":2080},{"x":2989,"y":2075},{"x":2994,"y":2080},{"x":2999,"y":2100},{"x":3005,"y":2115},{"x":3011,"y":2135},{"x":3017,"y":2125},{"x":3023,"y":2130},{"x":3029,"y":2150},{"x":3035,"y":2160},{"x":3041,"y":2130},{"x":3047,"y":2125},{"x":3053,"y":2115},{"x":3059,"y":2128},{"x":3065,"y":2150},{"x":3071,"y":2152},{"x":3077,"y":2138},{"x":3083,"y":2145},{"x":3089,"y":2138},{"x":3095,"y":2135},{"x":3101,"y":2135}],
"w30b":[{"x":232,"y":3265},{"x":240,"y":3257},{"x":248,"y":3250},{"x":255,"y":3248},{"x":262,"y":3265},{"x":268,"y":3258},{"x":275,"y":3255},{"x":283,"y":3257},{"x":290,"y":3260},{"x":297,"y":3270},{"x":303,"y":3285},{"x":308,"y":3300},{"x":313,"y":3330},{"x":318,"y":3350},{"x":324,"y":3370},{"x":330,"y":3385},{"x":336,"y":3395},{"x":342,"y":3410},{"x":348,"y":3425},{"x":355,"y":3440},{"x":360,"y":3460},{"x":366,"y":3475},{"x":372,"y":3480},{"x":378,"y":3470},{"x":384,"y":3445},{"x":390,"y":3425},{"x":396,"y":3400},{"x":402,"y":3385},{"x":408,"y":3370},{"x":414,"y":3355},{"x":420,"y":3330},{"x":426,"y":3310},{"x":432,"y":3285},{"x":438,"y":3260},{"x":444,"y":3250},{"x":450,"y":3230},{"x":456,"y":3225},{"x":462,"y":3230},{"x":468,"y":3225},{"x":474,"y":3215},{"x":480,"y":3205},{"x":486,"y":3205},{"x":492,"y":3215},{"x":497,"y":3218},{"x":502,"y":3200},{"x":507,"y":3150},{"x":512,"y":3110},{"x":517,"y":3092},{"x":522,"y":3110},{"x":527,"y":3170},{"x":532,"y":3205},{"x":538,"y":3210},{"x":544,"y":3202},{"x":550,"y":3205},{"x":556,"y":3210},{"x":562,"y":3215},{"x":567,"y":3210},{"x":572,"y":3190},{"x":577,"y":3130},{"x":582,"y":3070},{"x":587,"y":3035},{"x":592,"y":3040},{"x":596,"y":3100},{"x":600,"y":3270},{"x":603,"y":3400},{"x":608,"y":3410},{"x":613,"y":3520},{"x":618,"y":3640},{"x":623,"y":3750},{"x":628,"y":3820},{"x":633,"y":3800},{"x":638,"y":3620},{"x":642,"y":3370},{"x":647,"y":3120},{"x":651,"y":2970},{"x":655,"y":2915},{"x":660,"y":2910},{"x":665,"y":2950},{"x":670,"y":3020},{"x":676,"y":3090},{"x":682,"y":3150},{"x":688,"y":3180},{"x":694,"y":3195},{"x":700,"y":3215},{"x":706,"y":3220},{"x":712,"y":3215},{"x":718,"y":3210},{"x":724,"y":3205},{"x":730,"y":3215},{"x":736,"y":3212},{"x":742,"y":3218},{"x":748,"y":3228},{"x":754,"y":3240},{"x":760,"y":3235},{"x":766,"y":3232},{"x":772,"y":3230},{"x":778,"y":3240},{"x":784,"y":3235},{"x":790,"y":3238},{"x":796,"y":3238},{"x":802,"y":3240},{"x":808,"y":3238},{"x":814,"y":3230},{"x":820,"y":3218},{"x":826,"y":3210},{"x":832,"y":3205},{"x":838,"y":3210},{"x":844,"y":3215},{"x":850,"y":3218},{"x":856,"y":3215},{"x":862,"y":3210},{"x":868,"y":3205},{"x":874,"y":3208},{"x":880,"y":3205},{"x":886,"y":3208},{"x":892,"y":3205},{"x":898,"y":3215},{"x":904,"y":3210},{"x":910,"y":3205},{"x":916,"y":3215},{"x":922,"y":3220},{"x":928,"y":3215},{"x":934,"y":3230},{"x":940,"y":3245},{"x":945,"y":3265},{"x":950,"y":3282},{"x":955,"y":3295},{"x":960,"y":3302},{"x":966,"y":3310},{"x":972,"y":3315},{"x":978,"y":3325},{"x":984,"y":3332},{"x":990,"y":3335},{"x":996,"y":3330},{"x":1002,"y":3320},{"x":1008,"y":3305},{"x":1014,"y":3290},{"x":1020,"y":3280},{"x":1026,"y":3268},{"x":1032,"y":3260},{"x":1038,"y":3255},{"x":1044,"y":3265},{"x":1050,"y":3268},{"x":1056,"y":3265},{"x":1062,"y":3262},{"x":1068,"y":3260},{"x":1074,"y":3255},{"x":1080,"y":3258},{"x":1086,"y":3263},{"x":1092,"y":3268},{"x":1098,"y":3270},{"x":1104,"y":3260},{"x":1110,"y":3250},{"x":1116,"y":3250},{"x":1122,"y":3252},{"x":1128,"y":3260},{"x":1134,"y":3265},{"x":1140,"y":3258},{"x":1145,"y":3240},{"x":1150,"y":3200},{"x":1155,"y":3160},{"x":1160,"y":3150},{"x":1165,"y":3165},{"x":1170,"y":3200},{"x":1175,"y":3245},{"x":1180,"y":3265},{"x":1186,"y":3275},{"x":1192,"y":3290},{"x":1198,"y":3310},{"x":1204,"y":3325},{"x":1210,"y":3330},{"x":1216,"y":3340},{"x":1222,"y":3365},{"x":1228,"y":3385},{"x":1234,"y":3405},{"x":1240,"y":3422},{"x":1246,"y":3432},{"x":1252,"y":3438},{"x":1258,"y":3448},{"x":1264,"y":3465},{"x":1270,"y":3460},{"x":1276,"y":3455},{"x":1282,"y":3445},{"x":1288,"y":3428},{"x":1294,"y":3410},{"x":1300,"y":3390},{"x":1306,"y":3365},{"x":1312,"y":3340},{"x":1318,"y":3325},{"x":1324,"y":3300},{"x":1330,"y":3280},{"x":1336,"y":3265},{"x":1342,"y":3240},{"x":1348,"y":3220},{"x":1354,"y":3205},{"x":1360,"y":3200},{"x":1366,"y":3202},{"x":1372,"y":3200},{"x":1378,"y":3205},{"x":1384,"y":3202},{"x":1390,"y":3205},{"x":1396,"y":3210},{"x":1402,"y":3205},{"x":1408,"y":3198},{"x":1414,"y":3195},{"x":1420,"y":3205},{"x":1426,"y":3200},{"x":1432,"y":3208},{"x":1438,"y":3220},{"x":1444,"y":3205},{"x":1450,"y":3195},{"x":1456,"y":3190},{"x":1462,"y":3178},{"x":1468,"y":3188},{"x":1474,"y":3198},{"x":1480,"y":3210},{"x":1486,"y":3213},{"x":1492,"y":3205},{"x":1497,"y":3170},{"x":1502,"y":3115},{"x":1507,"y":3055},{"x":1512,"y":3025},{"x":1517,"y":3030},{"x":1522,"y":3070},{"x":1526,"y":3160},{"x":1530,"y":3290},{"x":1533,"y":3385},{"x":1537,"y":3390},
{"x":1546,"y":3520},{"x":1551,"y":3670},{"x":1556,"y":3780},{"x":1559,"y":3820},{"x":1563,"y":3770},{"x":1567,"y":3570},{"x":1571,"y":3270},{"x":1576,"y":3020},{"x":1581,"y":2925},{"x":1586,"y":2915},{"x":1591,"y":2950},{"x":1597,"y":3020},{"x":1603,"y":3090},{"x":1609,"y":3150},{"x":1615,"y":3190},{"x":1621,"y":3210},{"x":1627,"y":3220},{"x":1633,"y":3230},{"x":1639,"y":3232},{"x":1645,"y":3222},{"x":1651,"y":3218},{"x":1657,"y":3215},{"x":1663,"y":3212},{"x":1669,"y":3218},{"x":1675,"y":3220},{"x":1681,"y":3225},{"x":1687,"y":3220},{"x":1693,"y":3210},{"x":1699,"y":3215},{"x":1705,"y":3215},{"x":1711,"y":3220},{"x":1717,"y":3235},{"x":1723,"y":3240},{"x":1729,"y":3238},{"x":1735,"y":3235},{"x":1741,"y":3232},{"x":1747,"y":3230},{"x":1753,"y":3225},{"x":1759,"y":3232},{"x":1765,"y":3228},{"x":1771,"y":3235},{"x":1777,"y":3230},{"x":1783,"y":3225},{"x":1789,"y":3218},{"x":1795,"y":3212},{"x":1801,"y":3225},{"x":1807,"y":3230},{"x":1813,"y":3210},{"x":1819,"y":3140},{"x":1825,"y":3105},{"x":1830,"y":3110},{"x":1835,"y":3150},{"x":1840,"y":3205},{"x":1845,"y":3230},{"x":1851,"y":3228},{"x":1857,"y":3222},{"x":1863,"y":3225},{"x":1869,"y":3230},{"x":1875,"y":3225},{"x":1881,"y":3218},{"x":1887,"y":3215},{"x":1893,"y":3215},{"x":1899,"y":3220},{"x":1905,"y":3235},{"x":1911,"y":3250},{"x":1917,"y":3258},{"x":1923,"y":3275},{"x":1929,"y":3280},{"x":1935,"y":3282},{"x":1941,"y":3285},{"x":1947,"y":3295},{"x":1953,"y":3310},{"x":1959,"y":3320},{"x":1965,"y":3325},{"x":1971,"y":3320},{"x":1977,"y":3320},{"x":1983,"y":3318},{"x":1989,"y":3305},{"x":1995,"y":3290},{"x":2001,"y":3275},{"x":2007,"y":3260},{"x":2013,"y":3262},{"x":2019,"y":3258},{"x":2025,"y":3252},{"x":2031,"y":3248},{"x":2037,"y":3245},{"x":2043,"y":3242},{"x":2049,"y":3252},{"x":2055,"y":3260},{"x":2061,"y":3262},{"x":2067,"y":3265},{"x":2073,"y":3268},{"x":2079,"y":3265},{"x":2085,"y":3260},{"x":2091,"y":3260},{"x":2097,"y":3255},{"x":2103,"y":3255},{"x":2109,"y":3265},{"x":2115,"y":3260},{"x":2121,"y":3265},{"x":2127,"y":3258},{"x":2133,"y":3250},{"x":2139,"y":3248},{"x":2145,"y":3252},{"x":2151,"y":3255},{"x":2157,"y":3258},{"x":2163,"y":3260},{"x":2169,"y":3265},{"x":2175,"y":3255},{"x":2181,"y":3250},{"x":2187,"y":3250},{"x":2193,"y":3260},{"x":2199,"y":3275},{"x":2205,"y":3290},{"x":2211,"y":3300},{"x":2217,"y":3305},{"x":2223,"y":3315},{"x":2229,"y":3330},{"x":2235,"y":3345},{"x":2241,"y":3365},{"x":2247,"y":3380},{"x":2253,"y":3400},{"x":2259,"y":3430},{"x":2265,"y":3455},{"x":2271,"y":3458},{"x":2277,"y":3455},{"x":2283,"y":3455},{"x":2289,"y":3460},{"x":2295,"y":3470},{"x":2301,"y":3480},{"x":2307,"y":3470},{"x":2313,"y":3460},{"x":2319,"y":3445},{"x":2325,"y":3420},{"x":2331,"y":3405},{"x":2337,"y":3390},{"x":2343,"y":3370},{"x":2349,"y":3360},{"x":2355,"y":3345},{"x":2361,"y":3325},{"x":2367,"y":3300},{"x":2373,"y":3288},{"x":2379,"y":3278},{"x":2385,"y":3260},{"x":2391,"y":3240},{"x":2397,"y":3205},{"x":2403,"y":3200},{"x":2409,"y":3195},{"x":2415,"y":3200},{"x":2421,"y":3190},{"x":2427,"y":3185},{"x":2433,"y":3180},{"x":2439,"y":3190},{"x":2445,"y":3195},{"x":2451,"y":3198},{"x":2457,"y":3210},{"x":2463,"y":3220},{"x":2469,"y":3250},{"x":2475,"y":3280},{"x":2481,"y":3310},{"x":2486,"y":3300},{"x":2491,"y":3250},{"x":2496,"y":3225},{"x":2501,"y":3220},{"x":2506,"y":3228},{"x":2511,"y":3215},{"x":2516,"y":3140},{"x":2521,"y":3060},{"x":2526,"y":3030},{"x":2531,"y":3025},{"x":2536,"y":3035},{"x":2541,"y":3080},{"x":2546,"y":3110},{"x":2551,"y":3105},{"x":2556,"y":3065},{"x":2561,"y":3035},{"x":2566,"y":3030},{"x":2571,"y":3050},{"x":2576,"y":3150},{"x":2581,"y":3300},{"x":2585,"y":3405},{"x":2589,"y":3420},{"x":2593,"y":3470},{"x":2598,"y":3580},{"x":2603,"y":3680},{"x":2608,"y":3760},{"x":2613,"y":3805},{"x":2618,"y":3800},{"x":2623,"y":3670},{"x":2627,"y":3470},{"x":2631,"y":3240},{"x":2635,"y":3070},{"x":2639,"y":2970},{"x":2643,"y":2930},{"x":2647,"y":2925},{"x":2651,"y":2950},{"x":2656,"y":3000},{"x":2661,"y":3060},{"x":2666,"y":3110},{"x":2671,"y":3150},{"x":2676,"y":3175},{"x":2681,"y":3195},{"x":2687,"y":3205},{"x":2693,"y":3210},{"x":2699,"y":3205},{"x":2705,"y":3210},{"x":2711,"y":3208},{"x":2717,"y":3205},{"x":2723,"y":3200},{"x":2729,"y":3182},{"x":2735,"y":3175},{"x":2741,"y":3190},{"x":2747,"y":3215},{"x":2753,"y":3228},{"x":2759,"y":3230},{"x":2765,"y":3230},{"x":2771,"y":3228},{"x":2777,"y":3240},{"x":2783,"y":3255},{"x":2789,"y":3260},{"x":2795,"y":3255},{"x":2801,"y":3245},{"x":2807,"y":3238},{"x":2813,"y":3225},{"x":2819,"y":3220},{"x":2825,"y":3218},{"x":2831,"y":3215},{"x":2837,"y":3228},{"x":2843,"y":3240},{"x":2849,"y":3245},{"x":2855,"y":3230},{"x":2861,"y":3215},{"x":2867,"y":3212},{"x":2873,"y":3208},{"x":2879,"y":3200},{"x":2885,"y":3210},{"x":2891,"y":3230},{"x":2897,"y":3232},{"x":2903,"y":3225},{"x":2909,"y":3218},{"x":2915,"y":3215},{"x":2921,"y":3205},{"x":2927,"y":3215},{"x":2933,"y":3232},{"x":2939,"y":3230},{"x":2945,"y":3220},{"x":2951,"y":3215},{"x":2957,"y":3212},{"x":2963,"y":3218},{"x":2969,"y":3225},{"x":2975,"y":3225},{"x":2981,"y":3235},{"x":2985,"y":3260},{"x":2991,"y":3280},{"x":2997,"y":3290},{"x":3003,"y":3298},{"x":3009,"y":3300},{"x":3015,"y":3302},{"x":3019,"y":3315},{"x":3025,"y":3330},{"x":3031,"y":3345},{"x":3037,"y":3355},{"x":3043,"y":3350},{"x":3049,"y":3330},{"x":3055,"y":3315},{"x":3061,"y":3295},{"x":3067,"y":3282},{"x":3073,"y":3280},{"x":3079,"y":3275},{"x":3085,"y":3270},{"x":3091,"y":3272},{"x":3097,"y":3265},{"x":3103,"y":3262}],
"w33":[{"x":215,"y":4055},{"x":225,"y":4052},{"x":235,"y":4053},{"x":245,"y":4053},{"x":255,"y":4055},{"x":265,"y":4052},{"x":272,"y":4060},{"x":280,"y":4065},{"x":287,"y":4080},{"x":293,"y":4098},{"x":298,"y":4085},{"x":304,"y":4072},{"x":310,"y":4120},{"x":316,"y":4162},{"x":322,"y":4110},{"x":328,"y":4075},{"x":334,"y":4070},{"x":340,"y":4078},{"x":348,"y":4085},{"x":356,"y":4090},{"x":364,"y":4095},{"x":372,"y":4098},{"x":380,"y":4100},{"x":388,"y":4095},{"x":396,"y":4090},{"x":404,"y":4093},{"x":412,"y":4088},{"x":420,"y":4082},{"x":428,"y":4078},{"x":436,"y":4072},{"x":444,"y":4065},{"x":450,"y":4058},{"x":456,"y":4048},{"x":462,"y":4040},{"x":470,"y":4038},{"x":478,"y":4035},{"x":486,"y":4032},{"x":492,"y":4035},{"x":500,"y":4047},{"x":508,"y":4045},{"x":516,"y":4043},{"x":524,"y":4040},{"x":532,"y":4035},{"x":540,"y":4032},{"x":546,"y":4042},{"x":552,"y":4038},{"x":558,"y":4035},{"x":566,"y":4032},{"x":572,"y":4045},{"x":580,"y":4055},{"x":588,"y":4062},{"x":596,"y":4066},{"x":604,"y":4070},{"x":612,"y":4072},{"x":620,"y":4078},{"x":626,"y":4070},{"x":632,"y":4073},{"x":638,"y":4080},{"x":644,"y":4085},{"x":650,"y":4080},{"x":656,"y":4068},{"x":662,"y":4058},{"x":668,"y":4053},{"x":674,"y":4050},{"x":680,"y":4045},{"x":686,"y":4042},{"x":692,"y":4040},{"x":700,"y":4042},{"x":706,"y":4038},{"x":712,"y":4035},{"x":718,"y":4025},{"x":724,"y":4020},{"x":730,"y":4022},{"x":736,"y":4023},{"x":740,"y":4015},{"x":744,"y":4000},{"x":748,"y":3985},{"x":753,"y":3965},{"x":758,"y":3950},{"x":763,"y":3970},{"x":767,"y":4010},{"x":772,"y":4035},{"x":777,"y":4030},{"x":782,"y":4120},{"x":787,"y":4260},{"x":792,"y":4410},{"x":797,"y":4550},{"x":802,"y":4640},{"x":807,"y":4655},{"x":812,"y":4560},{"x":816,"y":4370},{"x":820,"y":4130},{"x":824,"y":3970},{"x":828,"y":3910},{"x":832,"y":3905},{"x":836,"y":3930},{"x":842,"y":3960},{"x":848,"y":3995},{"x":854,"y":4020},{"x":860,"y":4040},{"x":866,"y":4048},{"x":872,"y":4050},{"x":878,"y":4048},{"x":884,"y":4050},{"x":890,"y":4058},{"x":896,"y":4065},{"x":902,"y":4072},{"x":908,"y":4080},{"x":914,"y":4072},{"x":920,"y":4058},{"x":926,"y":4048},{"x":932,"y":4042},{"x":938,"y":4050},{"x":944,"y":4065},{"x":950,"y":4067},{"x":956,"y":4065},{"x":962,"y":4065},{"x":968,"y":4068},{"x":974,"y":4072},{"x":980,"y":4075},{"x":986,"y":4080},{"x":992,"y":4085},{"x":998,"y":4088},{"x":1004,"y":4090},{"x":1010,"y":4090},{"x":1016,"y":4092},{"x":1022,"y":4095},{"x":1028,"y":4102},{"x":1034,"y":4100},{"x":1040,"y":4093},{"x":1046,"y":4090},{"x":1052,"y":4095},{"x":1058,"y":4100},{"x":1064,"y":4102},{"x":1070,"y":4100},{"x":1076,"y":4098},{"x":1082,"y":4093},{"x":1088,"y":4085},{"x":1094,"y":4075},{"x":1100,"y":4068},{"x":1106,"y":4072},{"x":1112,"y":4065},{"x":1118,"y":4060},{"x":1124,"y":4055},{"x":1130,"y":4052},{"x":1136,"y":4052},{"x":1142,"y":4050},{"x":1148,"y":4048},{"x":1154,"y":4048},{"x":1160,"y":4045},{"x":1166,"y":4050},{"x":1172,"y":4042},{"x":1178,"y":4042},{"x":1184,"y":4038},{"x":1190,"y":4038},{"x":1196,"y":4035},{"x":1202,"y":4032},{"x":1208,"y":4028},{"x":1214,"y":4035},{"x":1220,"y":4042},{"x":1226,"y":4038},{"x":1230,"y":4045},{"x":1236,"y":4080},{"x":1241,"y":4120},{"x":1246,"y":4095},{"x":1252,"y":4055},{"x":1258,"y":4025},{"x":1263,"y":4035},{"x":1268,"y":4045},{"x":1274,"y":4050},{"x":1280,"y":4052},{"x":1286,"y":4058},{"x":1292,"y":4062},{"x":1298,"y":4068},{"x":1304,"y":4072},{"x":1310,"y":4075},{"x":1316,"y":4082},{"x":1322,"y":4088},{"x":1328,"y":4095},{"x":1334,"y":4100},{"x":1340,"y":4092},{"x":1346,"y":4082},{"x":1352,"y":4075},{"x":1358,"y":4072},{"x":1364,"y":4072},{"x":1370,"y":4070},{"x":1376,"y":4065},{"x":1382,"y":4060},{"x":1388,"y":4055},{"x":1394,"y":4050},{"x":1400,"y":4048},{"x":1406,"y":4042},{"x":1412,"y":4038},{"x":1418,"y":4032},{"x":1424,"y":4025},{"x":1430,"y":4015},{"x":1436,"y":4005},{"x":1442,"y":3990},{"x":1447,"y":3970},{"x":1452,"y":3945},{"x":1457,"y":3930},{"x":1462,"y":3945},{"x":1467,"y":4010},{"x":1472,"y":4090},{"x":1477,"y":4140},{"x":1482,"y":4250},{"x":1486,"y":4370},{"x":1490,"y":4490},{"x":1494,"y":4590},{"x":1498,"y":4650},{"x":1502,"y":4665},{"x":1506,"y":4570},{"x":1510,"y":4370},{"x":1514,"y":4160},{"x":1518,"y":3990},{"x":1522,"y":3910},{"x":1526,"y":3892},{"x":1531,"y":3920},{"x":1536,"y":3960},
{"x":1545,"y":3990},{"x":1549,"y":4015},{"x":1555,"y":4035},{"x":1561,"y":4045},{"x":1567,"y":4038},{"x":1573,"y":4028},{"x":1579,"y":4032},{"x":1585,"y":4045},{"x":1591,"y":4042},{"x":1597,"y":4038},{"x":1603,"y":4040},{"x":1609,"y":4038},{"x":1615,"y":4042},{"x":1621,"y":4050},{"x":1627,"y":4052},{"x":1633,"y":4052},{"x":1639,"y":4055},{"x":1645,"y":4065},{"x":1651,"y":4075},{"x":1657,"y":4085},{"x":1663,"y":4080},{"x":1669,"y":4072},{"x":1675,"y":4068},{"x":1681,"y":4080},{"x":1687,"y":4085},{"x":1693,"y":4072},{"x":1699,"y":4060},{"x":1704,"y":4080},{"x":1709,"y":4130},{"x":1714,"y":4170},{"x":1719,"y":4150},{"x":1724,"y":4110},{"x":1729,"y":4090},{"x":1735,"y":4085},{"x":1741,"y":4095},{"x":1747,"y":4105},{"x":1753,"y":4112},{"x":1759,"y":4100},{"x":1765,"y":4088},{"x":1771,"y":4080},{"x":1777,"y":4072},{"x":1783,"y":4080},{"x":1789,"y":4095},{"x":1795,"y":4110},{"x":1801,"y":4135},{"x":1806,"y":4140},{"x":1811,"y":4120},{"x":1817,"y":4100},{"x":1823,"y":4088},{"x":1829,"y":4082},{"x":1835,"y":4078},{"x":1841,"y":4065},{"x":1846,"y":4045},{"x":1851,"y":4032},{"x":1856,"y":4050},{"x":1861,"y":4075},{"x":1866,"y":4078},{"x":1871,"y":4080},{"x":1877,"y":4085},{"x":1882,"y":4075},{"x":1887,"y":4030},{"x":1892,"y":4005},{"x":1897,"y":4028},{"x":1902,"y":4065},{"x":1907,"y":4090},{"x":1912,"y":4105},{"x":1917,"y":4080},{"x":1922,"y":4050},{"x":1927,"y":4025},{"x":1932,"y":4030},{"x":1937,"y":4060},{"x":1942,"y":4120},{"x":1948,"y":4155},{"x":1953,"y":4100},{"x":1958,"y":4040},{"x":1962,"y":4000},{"x":1966,"y":3985},{"x":1971,"y":4030},{"x":1976,"y":4100},{"x":1981,"y":4180},{"x":1986,"y":4150},{"x":1991,"y":4115},{"x":1996,"y":4080},{"x":2001,"y":4055},{"x":2006,"y":4072},{"x":2011,"y":4095},{"x":2016,"y":4110},{"x":2021,"y":4115},{"x":2026,"y":4120},{"x":2031,"y":4115},{"x":2036,"y":4090},{"x":2041,"y":4060},{"x":2046,"y":4040},{"x":2051,"y":4075},{"x":2056,"y":4105},{"x":2061,"y":4080},{"x":2066,"y":4040},{"x":2071,"y":4000},{"x":2076,"y":3975},{"x":2081,"y":3995},{"x":2086,"y":4040},{"x":2091,"y":4075},{"x":2096,"y":4095},{"x":2101,"y":4100},{"x":2106,"y":4070},{"x":2111,"y":3990},{"x":2116,"y":3920},{"x":2120,"y":3905},{"x":2124,"y":3920},{"x":2129,"y":3910},{"x":2133,"y":3950},{"x":2137,"y":4010},{"x":2141,"y":4060},{"x":2145,"y":4068},{"x":2149,"y":4130},{"x":2153,"y":4270},{"x":2157,"y":4430},{"x":2161,"y":4580},{"x":2165,"y":4680},{"x":2169,"y":4720},{"x":2173,"y":4620},{"x":2177,"y":4380},{"x":2181,"y":4130},{"x":2185,"y":3960},{"x":2189,"y":3890},{"x":2194,"y":3865},{"x":2199,"y":3880},{"x":2204,"y":3940},{"x":2208,"y":4010},{"x":2213,"y":4025},{"x":2218,"y":4048},{"x":2223,"y":4052},{"x":2227,"y":4040},{"x":2232,"y":4020},{"x":2237,"y":4008},{"x":2242,"y":4020},{"x":2247,"y":4035},{"x":2253,"y":4050},{"x":2259,"y":4042},{"x":2265,"y":4035},{"x":2271,"y":4048},{"x":2277,"y":4070},{"x":2283,"y":4060},{"x":2289,"y":4050},{"x":2295,"y":4035},{"x":2301,"y":4022},{"x":2306,"y":4015},{"x":2311,"y":4040},{"x":2316,"y":4080},{"x":2321,"y":4108},{"x":2326,"y":4100},{"x":2331,"y":4085},{"x":2337,"y":4050},{"x":2342,"y":4005},{"x":2347,"y":4010},{"x":2352,"y":4050},{"x":2357,"y":4095},{"x":2362,"y":4115},{"x":2367,"y":4110},{"x":2373,"y":4100},{"x":2379,"y":4090},{"x":2385,"y":4080},{"x":2391,"y":4068},{"x":2397,"y":4055},{"x":2402,"y":4060},{"x":2407,"y":4075},{"x":2412,"y":4095},{"x":2417,"y":4120},{"x":2422,"y":4132},{"x":2427,"y":4100},{"x":2432,"y":4040},{"x":2437,"y":3988},{"x":2442,"y":3982},{"x":2447,"y":4000},{"x":2452,"y":4025},{"x":2457,"y":4045},{"x":2462,"y":4065},{"x":2467,"y":4070},{"x":2472,"y":4055},{"x":2477,"y":4035},{"x":2482,"y":4005},{"x":2487,"y":3975},{"x":2492,"y":3990},{"x":2497,"y":4025},{"x":2502,"y":4060},{"x":2507,"y":4080},{"x":2512,"y":4075},{"x":2517,"y":4045},{"x":2522,"y":4015},{"x":2527,"y":3998},{"x":2532,"y":4010},{"x":2537,"y":4040},{"x":2542,"y":4065},{"x":2547,"y":4058},{"x":2552,"y":4035},{"x":2557,"y":4010},{"x":2562,"y":3970},{"x":2567,"y":3965},{"x":2572,"y":3985},{"x":2577,"y":4015},{"x":2582,"y":4040},{"x":2587,"y":4075},{"x":2592,"y":4085},{"x":2597,"y":4078},{"x":2602,"y":4085},{"x":2607,"y":4095},{"x":2612,"y":4125},{"x":2617,"y":4100},{"x":2622,"y":4065},{"x":2627,"y":4045},{"x":2632,"y":4035},{"x":2637,"y":4048},{"x":2642,"y":4065},{"x":2647,"y":4072},{"x":2652,"y":4055},{"x":2657,"y":4038},{"x":2662,"y":4045},{"x":2667,"y":4060},{"x":2672,"y":4075},{"x":2677,"y":4078},{"x":2682,"y":4075},{"x":2687,"y":4065},{"x":2692,"y":4035},{"x":2697,"y":3995},{"x":2702,"y":3982},{"x":2707,"y":4005},{"x":2712,"y":4035},{"x":2717,"y":4058},{"x":2722,"y":4070},{"x":2727,"y":4060},{"x":2732,"y":4040},{"x":2737,"y":4020},{"x":2742,"y":4000},{"x":2747,"y":3995},{"x":2752,"y":3990},{"x":2757,"y":3978},{"x":2762,"y":3962},{"x":2767,"y":3945},{"x":2771,"y":3952},{"x":2775,"y":4010},{"x":2779,"y":4090},{"x":2783,"y":4190},{"x":2787,"y":4310},{"x":2791,"y":4410},{"x":2795,"y":4510},{"x":2799,"y":4590},{"x":2803,"y":4630},{"x":2807,"y":4620},{"x":2811,"y":4510},{"x":2815,"y":4310},{"x":2819,"y":4110},{"x":2823,"y":3970},{"x":2827,"y":3905},{"x":2831,"y":3895},{"x":2835,"y":3910},{"x":2839,"y":3960},{"x":2843,"y":4030},{"x":2847,"y":4045},{"x":2851,"y":4025},{"x":2855,"y":4000},{"x":2859,"y":4005},{"x":2863,"y":4025},{"x":2868,"y":4050},{"x":2873,"y":4050},{"x":2878,"y":4032},{"x":2883,"y":4020},{"x":2889,"y":4010},{"x":2895,"y":4008},{"x":2901,"y":4015},{"x":2907,"y":4025},{"x":2913,"y":4035},{"x":2918,"y":4050},{"x":2923,"y":4080},{"x":2928,"y":4115},{"x":2933,"y":4135},{"x":2938,"y":4100},{"x":2943,"y":4050},{"x":2948,"y":4028},{"x":2953,"y":4022},{"x":2958,"y":4015},{"x":2963,"y":4040},{"x":2968,"y":4070},{"x":2973,"y":4090},{"x":2978,"y":4100},{"x":2983,"y":4092},{"x":2988,"y":4085},{"x":2993,"y":4080},{"x":2998,"y":4078},{"x":3003,"y":4088},{"x":3008,"y":4105},{"x":3013,"y":4110},{"x":3018,"y":4100},{"x":3023,"y":4088},{"x":3028,"y":4078},{"x":3033,"y":4072},{"x":3038,"y":4095},{"x":3043,"y":4105},{"x":3048,"y":4095},{"x":3053,"y":4080},{"x":3058,"y":4072},{"x":3063,"y":4072},{"x":3068,"y":4080},{"x":3073,"y":4100},{"x":3078,"y":4125},{"x":3083,"y":4165},{"x":3088,"y":4165},{"x":3093,"y":4120},{"x":3098,"y":4100}],
"w35":[{"x":243,"y":4860},{"x":247,"y":4830},{"x":252,"y":4812},{"x":258,"y":4805},{"x":264,"y":4820},{"x":270,"y":4825},{"x":278,"y":4825},{"x":286,"y":4828},{"x":294,"y":4823},{"x":302,"y":4828},{"x":310,"y":4825},{"x":318,"y":4832},{"x":325,"y":4830},{"x":330,"y":4820},{"x":334,"y":4795},{"x":340,"y":4780},{"x":344,"y":4750},{"x":350,"y":4735},{"x":356,"y":4728},{"x":362,"y":4738},{"x":368,"y":4765},{"x":374,"y":4820},{"x":379,"y":4880},{"x":384,"y":4970},{"x":389,"y":5100},{"x":394,"y":5230},{"x":399,"y":5330},{"x":404,"y":5410},{"x":409,"y":5465},{"x":414,"y":5475},{"x":419,"y":5430},{"x":424,"y":5270},{"x":429,"y":5050},{"x":434,"y":4870},{"x":439,"y":4760},{"x":444,"y":4720},{"x":449,"y":4710},{"x":454,"y":4725},{"x":459,"y":4750},{"x":465,"y":4765},{"x":472,"y":4780},{"x":478,"y":4785},{"x":484,"y":4790},{"x":489,"y":4810},{"x":494,"y":4830},{"x":500,"y":4845},{"x":506,"y":4850},{"x":512,"y":4852},{"x":518,"y":4840},{"x":523,"y":4820},{"x":528,"y":4805},{"x":534,"y":4802},{"x":540,"y":4818},{"x":546,"y":4830},{"x":552,"y":4842},{"x":558,"y":4858},{"x":564,"y":4868},{"x":570,"y":4860},{"x":576,"y":4850},{"x":582,"y":4835},{"x":588,"y":4830},{"x":594,"y":4830},{"x":600,"y":4840},{"x":606,"y":4858},{"x":612,"y":4865},{"x":618,"y":4868},{"x":624,"y":4875},{"x":628,"y":4865},{"x":634,"y":4860},{"x":638,"y":4845},{"x":644,"y":4855},{"x":650,"y":4860},{"x":656,"y":4865},{"x":662,"y":4862},{"x":668,"y":4870},{"x":674,"y":4868},{"x":680,"y":4872},{"x":686,"y":4885},{"x":692,"y":4910},{"x":698,"y":4915},{"x":704,"y":4895},{"x":710,"y":4865},{"x":716,"y":4855},{"x":722,"y":4865},{"x":728,"y":4880},{"x":734,"y":4895},{"x":740,"y":4902},{"x":746,"y":4900},{"x":752,"y":4895},{"x":758,"y":4888},{"x":764,"y":4882},{"x":770,"y":4880},{"x":776,"y":4885},{"x":782,"y":4890},{"x":788,"y":4895},{"x":794,"y":4888},{"x":800,"y":4885},{"x":806,"y":4875},{"x":812,"y":4865},{"x":818,"y":4862},{"x":824,"y":4858},{"x":830,"y":4855},{"x":836,"y":4853},{"x":842,"y":4855},{"x":848,"y":4850},{"x":854,"y":4848},{"x":860,"y":4850},{"x":866,"y":4845},{"x":872,"y":4840},{"x":878,"y":4840},{"x":882,"y":4870},{"x":887,"y":4905},{"x":893,"y":4920},{"x":898,"y":4905},{"x":903,"y":4865},{"x":908,"y":4830},{"x":913,"y":4818},{"x":918,"y":4818},{"x":924,"y":4825},{"x":930,"y":4838},{"x":936,"y":4840},{"x":942,"y":4838},{"x":948,"y":4835},{"x":954,"y":4833},{"x":960,"y":4833},{"x":966,"y":4838},{"x":972,"y":4840},{"x":978,"y":4840},{"x":984,"y":4835},{"x":990,"y":4835},{"x":996,"y":4835},{"x":1002,"y":4838},{"x":1008,"y":4835},{"x":1014,"y":4835},{"x":1020,"y":4835},{"x":1026,"y":4845},{"x":1032,"y":4855},{"x":1038,"y":4860},{"x":1044,"y":4858},{"x":1050,"y":4856},{"x":1056,"y":4862},{"x":1062,"y":4868},{"x":1068,"y":4870},{"x":1074,"y":4872},{"x":1080,"y":4878},{"x":1086,"y":4882},{"x":1092,"y":4880},{"x":1098,"y":4875},{"x":1104,"y":4870},{"x":1110,"y":4868},{"x":1116,"y":4865},{"x":1122,"y":4862},{"x":1128,"y":4875},{"x":1134,"y":4882},{"x":1140,"y":4888},{"x":1146,"y":4892},{"x":1152,"y":4888},{"x":1158,"y":4868},{"x":1164,"y":4855},{"x":1170,"y":4852},{"x":1176,"y":4852},{"x":1182,"y":4848},{"x":1188,"y":4842},{"x":1194,"y":4840},{"x":1200,"y":4835},{"x":1206,"y":4828},{"x":1212,"y":4832},{"x":1218,"y":4835},{"x":1224,"y":4833},{"x":1230,"y":4835},{"x":1236,"y":4835},{"x":1242,"y":4828},{"x":1248,"y":4825},{"x":1254,"y":4822},{"x":1260,"y":4825},{"x":1266,"y":4820},{"x":1272,"y":4822},{"x":1278,"y":4820},{"x":1284,"y":4818},{"x":1290,"y":4805},{"x":1295,"y":4785},{"x":1300,"y":4765},{"x":1305,"y":4750},{"x":1310,"y":4738},{"x":1315,"y":4732},{"x":1320,"y":4738},{"x":1325,"y":4755},{"x":1330,"y":4775},{"x":1336,"y":4800},{"x":1342,"y":4825},{"x":1348,"y":4870},{"x":1354,"y":4950},{"x":1359,"y":5050},{"x":1364,"y":5170},{"x":1369,"y":5290},{"x":1374,"y":5390},{"x":1379,"y":5445},{"x":1384,"y":5455},{"x":1389,"y":5400},{"x":1394,"y":5250},{"x":1399,"y":5050},{"x":1404,"y":4880},{"x":1409,"y":4760},{"x":1414,"y":4720},{"x":1420,"y":4705},{"x":1426,"y":4718},{"x":1432,"y":4740},{"x":1438,"y":4760},{"x":1444,"y":4775},{"x":1450,"y":4795},{"x":1455,"y":4810},{"x":1460,"y":4815},{"x":1466,"y":4818},{"x":1472,"y":4818},{"x":1478,"y":4820},{"x":1484,"y":4818},{"x":1490,"y":4820},{"x":1496,"y":4818},{"x":1502,"y":4820},{"x":1508,"y":4828},{"x":1514,"y":4832},{"x":1520,"y":4845},{"x":1526,"y":4850},{"x":1531,"y":4848},{"x":1535,"y":4860},
{"x":1541,"y":4920},{"x":1546,"y":4900},{"x":1551,"y":4865},{"x":1557,"y":4845},{"x":1563,"y":4833},{"x":1569,"y":4830},{"x":1575,"y":4835},{"x":1581,"y":4840},{"x":1587,"y":4845},{"x":1593,"y":4848},{"x":1599,"y":4850},{"x":1605,"y":4855},{"x":1611,"y":4860},{"x":1617,"y":4865},{"x":1623,"y":4868},{"x":1629,"y":4872},{"x":1635,"y":4868},{"x":1641,"y":4865},{"x":1647,"y":4865},{"x":1653,"y":4868},{"x":1659,"y":4875},{"x":1665,"y":4885},{"x":1671,"y":4895},{"x":1677,"y":4895},{"x":1683,"y":4890},{"x":1689,"y":4888},{"x":1695,"y":4890},{"x":1701,"y":4895},{"x":1707,"y":4900},{"x":1713,"y":4908},{"x":1719,"y":4912},{"x":1725,"y":4915},{"x":1731,"y":4915},{"x":1737,"y":4912},{"x":1743,"y":4908},{"x":1749,"y":4905},{"x":1755,"y":4902},{"x":1761,"y":4900},{"x":1767,"y":4900},{"x":1773,"y":4895},{"x":1779,"y":4890},{"x":1785,"y":4882},{"x":1791,"y":4878},{"x":1797,"y":4875},{"x":1803,"y":4872},{"x":1809,"y":4872},{"x":1815,"y":4865},{"x":1821,"y":4860},{"x":1827,"y":4855},{"x":1833,"y":4848},{"x":1839,"y":4845},{"x":1845,"y":4838},{"x":1851,"y":4835},{"x":1857,"y":4845},{"x":1863,"y":4848},{"x":1869,"y":4850},{"x":1875,"y":4845},{"x":1881,"y":4835},{"x":1887,"y":4828},{"x":1893,"y":4830},{"x":1899,"y":4832},{"x":1905,"y":4835},{"x":1911,"y":4838},{"x":1917,"y":4835},{"x":1923,"y":4838},{"x":1929,"y":4835},{"x":1935,"y":4833},{"x":1941,"y":4838},{"x":1947,"y":4835},{"x":1953,"y":4832},{"x":1959,"y":4835},{"x":1965,"y":4838},{"x":1971,"y":4835},{"x":1977,"y":4832},{"x":1983,"y":4830},{"x":1989,"y":4825},{"x":1995,"y":4820},{"x":2001,"y":4825},{"x":2007,"y":4840},{"x":2013,"y":4838},{"x":2019,"y":4835},{"x":2025,"y":4830},{"x":2031,"y":4825},{"x":2037,"y":4828},{"x":2043,"y":4832},{"x":2049,"y":4835},{"x":2055,"y":4840},{"x":2059,"y":4850},{"x":2063,"y":4865},{"x":2067,"y":4870},{"x":2071,"y":4868},{"x":2077,"y":4862},{"x":2083,"y":4855},{"x":2089,"y":4850},{"x":2093,"y":4845},{"x":2097,"y":4850},{"x":2101,"y":4862},{"x":2106,"y":4868},{"x":2111,"y":4870},{"x":2117,"y":4870},{"x":2123,"y":4870},{"x":2129,"y":4868},{"x":2135,"y":4870},{"x":2141,"y":4872},{"x":2147,"y":4875},{"x":2153,"y":4878},{"x":2159,"y":4875},{"x":2165,"y":4870},{"x":2169,"y":4862},{"x":2173,"y":4850},{"x":2179,"y":4842},{"x":2185,"y":4838},{"x":2191,"y":4835},{"x":2197,"y":4840},{"x":2203,"y":4845},{"x":2209,"y":4848},{"x":2215,"y":4845},{"x":2219,"y":4838},{"x":2223,"y":4835},{"x":2227,"y":4845},{"x":2231,"y":4860},{"x":2236,"y":4890},{"x":2241,"y":4908},{"x":2246,"y":4895},{"x":2251,"y":4865},{"x":2256,"y":4845},{"x":2261,"y":4830},{"x":2267,"y":4822},{"x":2273,"y":4820},{"x":2279,"y":4822},{"x":2285,"y":4818},{"x":2291,"y":4815},{"x":2296,"y":4810},{"x":2301,"y":4795},{"x":2306,"y":4775},{"x":2311,"y":4760},{"x":2316,"y":4748},{"x":2322,"y":4735},{"x":2328,"y":4730},{"x":2334,"y":4735},{"x":2339,"y":4750},{"x":2344,"y":4775},{"x":2349,"y":4820},{"x":2354,"y":4870},{"x":2359,"y":4930},{"x":2363,"y":5000},{"x":2367,"y":5090},{"x":2371,"y":5180},{"x":2375,"y":5270},{"x":2379,"y":5350},{"x":2383,"y":5410},{"x":2387,"y":5450},{"x":2391,"y":5460},{"x":2395,"y":5440},{"x":2399,"y":5350},{"x":2403,"y":5210},{"x":2407,"y":5050},{"x":2411,"y":4900},{"x":2415,"y":4790},{"x":2420,"y":4735},{"x":2425,"y":4715},{"x":2430,"y":4720},{"x":2435,"y":4735},{"x":2441,"y":4760},{"x":2447,"y":4780},{"x":2453,"y":4800},{"x":2459,"y":4815},{"x":2465,"y":4825},{"x":2471,"y":4830},{"x":2477,"y":4828},{"x":2483,"y":4830},{"x":2489,"y":4832},{"x":2495,"y":4828},{"x":2501,"y":4830},{"x":2507,"y":4835},{"x":2513,"y":4830},{"x":2519,"y":4825},{"x":2525,"y":4832},{"x":2531,"y":4840},{"x":2537,"y":4845},{"x":2543,"y":4842},{"x":2549,"y":4840},{"x":2555,"y":4842},{"x":2561,"y":4845},{"x":2567,"y":4842},{"x":2573,"y":4840},{"x":2579,"y":4842},{"x":2585,"y":4845},{"x":2591,"y":4845},{"x":2597,"y":4848},{"x":2603,"y":4850},{"x":2609,"y":4850},{"x":2615,"y":4852},{"x":2621,"y":4855},{"x":2627,"y":4860},{"x":2633,"y":4862},{"x":2639,"y":4865},{"x":2645,"y":4872},{"x":2651,"y":4878},{"x":2657,"y":4882},{"x":2663,"y":4875},{"x":2669,"y":4868},{"x":2675,"y":4878},{"x":2681,"y":4888},{"x":2687,"y":4890},{"x":2693,"y":4888},{"x":2699,"y":4885},{"x":2705,"y":4888},{"x":2711,"y":4885},{"x":2717,"y":4888},{"x":2723,"y":4890},{"x":2729,"y":4882},{"x":2735,"y":4885},{"x":2741,"y":4890},{"x":2747,"y":4895},{"x":2753,"y":4892},{"x":2759,"y":4888},{"x":2765,"y":4885},{"x":2771,"y":4885},{"x":2777,"y":4882},{"x":2783,"y":4885},{"x":2789,"y":4882},{"x":2795,"y":4880},{"x":2801,"y":4878},{"x":2807,"y":4875},{"x":2813,"y":4868},{"x":2819,"y":4860},{"x":2825,"y":4855},{"x":2831,"y":4848},{"x":2837,"y":4845},{"x":2843,"y":4842},{"x":2849,"y":4840},{"x":2855,"y":4835},{"x":2861,"y":4832},{"x":2867,"y":4828},{"x":2873,"y":4825},{"x":2879,"y":4828},{"x":2885,"y":4835},{"x":2891,"y":4840},{"x":2897,"y":4838},{"x":2903,"y":4835},{"x":2909,"y":4840},{"x":2915,"y":4835},{"x":2921,"y":4832},{"x":2927,"y":4845},{"x":2931,"y":4880},{"x":2935,"y":4912},{"x":2939,"y":4900},{"x":2943,"y":4860},{"x":2947,"y":4830},{"x":2953,"y":4815},{"x":2959,"y":4810},{"x":2965,"y":4812},{"x":2971,"y":4820},{"x":2977,"y":4822},{"x":2983,"y":4832},{"x":2989,"y":4828},{"x":2995,"y":4822},{"x":3001,"y":4825},{"x":3007,"y":4820},{"x":3013,"y":4815},{"x":3019,"y":4825},{"x":3025,"y":4835},{"x":3031,"y":4845},{"x":3037,"y":4850},{"x":3043,"y":4858},{"x":3049,"y":4858},{"x":3055,"y":4862},{"x":3061,"y":4868},{"x":3067,"y":4872},{"x":3073,"y":4878},{"x":3079,"y":4880},{"x":3085,"y":4885},{"x":3091,"y":4882},{"x":3097,"y":4880},{"x":3103,"y":4878}],
"labels":[{"t":"(a)","x":72,"y":117},{"t":"27 weeks","x":1351,"y":295},{"t":"29 weeks","x":1376,"y":1308},{"t":"30 weeks","x":1254,"y":1915},{"t":"500 ms","x":206,"y":1022},{"t":"(b)","x":62,"y":2955},{"t":"30 weeks","x":1657,"y":2985},{"t":"33 weeks","x":1589,"y":3905},{"t":"35 weeks","x":1546,"y":4785},{"t":"500 ms","x":146,"y":3860},
{"t":"F","x":645,"y":848},{"t":"F","x":1240,"y":630},{"t":"F","x":1646,"y":768},{"t":"F","x":2181,"y":782},{"t":"F","x":2706,"y":790},
{"t":"F","x":398,"y":1482},{"t":"F","x":1132,"y":1600},{"t":"F","x":1629,"y":1735},{"t":"F","x":2053,"y":1690},{"t":"F","x":2374,"y":1513},{"t":"F","x":2781,"y":1517},
{"t":"F","x":388,"y":2308},{"t":"F","x":1145,"y":2308},{"t":"F","x":1886,"y":2320},{"t":"F","x":2606,"y":2262},
{"t":"F","x":420,"y":3103},{"t":"F","x":1077,"y":3143},{"t":"F","x":1891,"y":3155},{"t":"F","x":2453,"y":3467},
{"t":"F","x":348,"y":4300},{"t":"F","x":1152,"y":4272},{"t":"F","x":1731,"y":4295},{"t":"F","x":2533,"y":4247},
{"t":"F","x":915,"y":5050},{"t":"F","x":1561,"y":5045},{"t":"F","x":2159,"y":5055},{"t":"F","x":2846,"y":5040}],
"vlabels":[{"t":"40 uV","x":133,"y":517},{"t":"40 uV","x":129,"y":3355}],
"arrows":[{"x":157,"y":300,"x2":157,"y2":780},{"x":80,"y":1050,"x2":705,"y2":1050},{"x":153,"y":3135,"x2":153,"y2":3605},{"x":20,"y":3893,"x2":645,"y2":3893}],
"heads":[{"x":157,"y":319,"d":"up"},{"x":157,"y":764,"d":"down"},{"x":95,"y":1050,"d":"left"},{"x":690,"y":1050,"d":"right"},{"x":153,"y":3151,"d":"up"},{"x":153,"y":3589,"d":"down"},{"x":35,"y":3893,"d":"left"},{"x":630,"y":3893,"d":"right"}]
},
"encoding":{
"x":{"field":"x","type":"quantitative","scale":{"domain":[0,3110],"nice":false,"zero":false},"axis":null},
"y":{"field":"y","type":"quantitative","scale":{"domain":[0,5481],"nice":false,"zero":false,"reverse":true},"axis":null}
},
"layer":[
{"data":{"name":"w27"},"mark":{"type":"line","color":"#0000ff","strokeWidth":3,"strokeJoin":"round","clip":false}},
{"data":{"name":"w29"},"mark":{"type":"line","color":"#0000ff","strokeWidth":3,"strokeJoin":"round","clip":false}},
{"data":{"name":"w30a"},"mark":{"type":"line","color":"#0000ff","strokeWidth":3,"strokeJoin":"round","clip":false}},
{"data":{"name":"w30b"},"mark":{"type":"line","color":"#0000ff","strokeWidth":3,"strokeJoin":"round","clip":false}},
{"data":{"name":"w33"},"mark":{"type":"line","color":"#0000ff","strokeWidth":3,"strokeJoin":"round","clip":false}},
{"data":{"name":"w35"},"mark":{"type":"line","color":"#0000ff","strokeWidth":3,"strokeJoin":"round","clip":false}},
{"data":{"name":"arrows"},"mark":{"type":"rule","color":"black","strokeWidth":3},"encoding":{"x2":{"field":"x2"},"y2":{"field":"y2"}}},
{"data":{"name":"heads"},"transform":[{"filter":"datum.d==='up'"}],"mark":{"type":"point","shape":"M1,0L-1,-0.8L-0.55,0L-1,0.8Z","size":576,"filled":true,"color":"black","opacity":1,"angle":270}},
{"data":{"name":"heads"},"transform":[{"filter":"datum.d==='down'"}],"mark":{"type":"point","shape":"M1,0L-1,-0.8L-0.55,0L-1,0.8Z","size":576,"filled":true,"color":"black","opacity":1,"angle":90}},
{"data":{"name":"heads"},"transform":[{"filter":"datum.d==='left'"}],"mark":{"type":"point","shape":"M1,0L-1,-0.8L-0.55,0L-1,0.8Z","size":576,"filled":true,"color":"black","opacity":1,"angle":180}},
{"data":{"name":"heads"},"transform":[{"filter":"datum.d==='right'"}],"mark":{"type":"point","shape":"M1,0L-1,-0.8L-0.55,0L-1,0.8Z","size":576,"filled":true,"color":"black","opacity":1,"angle":0}},
{"data":{"name":"labels"},"mark":{"type":"text","align":"left","baseline":"alphabetic","font":"Liberation Sans","fontSize":43,"color":"black"},"encoding":{"text":{"field":"t"}}},
{"data":{"name":"vlabels"},"mark":{"type":"text","align":"center","baseline":"alphabetic","angle":270,"font":"Liberation Sans","fontSize":43,"color":"black"},"encoding":{"text":{"field":"t"}}}
]
}
